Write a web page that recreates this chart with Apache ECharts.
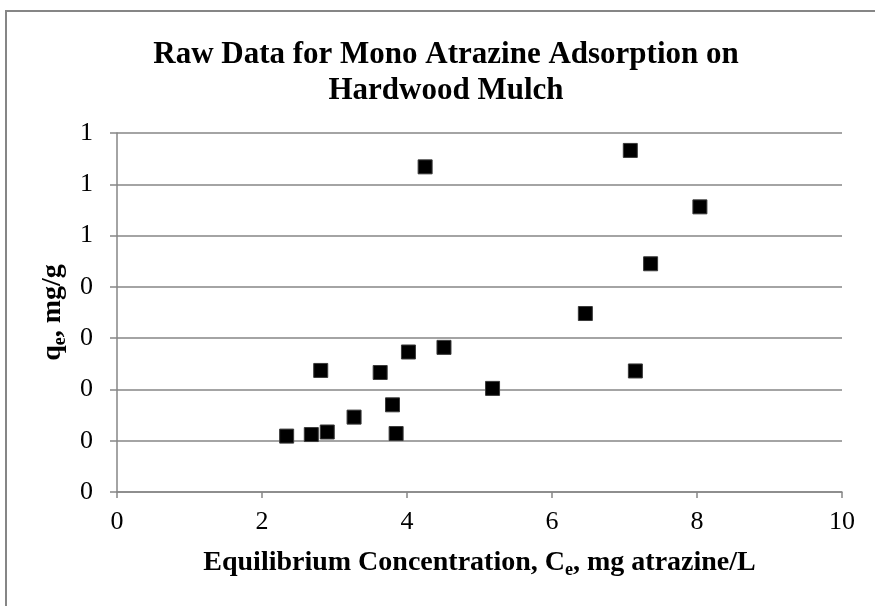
<!DOCTYPE html>
<html>
<head>
<meta charset="utf-8">
<script src="https://cdn.jsdelivr.net/npm/echarts@6/dist/echarts.min.js"></script>
<style>
  html, body { margin: 0; padding: 0; background: #fff; }
  #chart { width: 875px; height: 606px; }
</style>
</head>
<body>
<div id="chart"></div>
<script>
// equilibrium concentration (mg/L) and uptake (mg/g)
const ce = [2.34, 2.68, 2.90, 2.81, 3.27, 3.63, 3.80, 3.85, 4.02, 4.25, 4.51, 5.18, 6.46, 7.08, 7.15, 7.36, 8.04];
const qe = [0.109, 0.112, 0.117, 0.237, 0.146, 0.233, 0.170, 0.114, 0.273, 0.634, 0.282, 0.202, 0.348, 0.666, 0.236, 0.445, 0.556];

// the axis labels as printed (y values got rounded to whole numbers)
const xTickLabels = ['0', '2', '4', '6', '8', '10'];
const yTickLabels = ['0', '0', '0', '0', '0', '1', '1', '1'];

const serif = '"Liberation Serif", "DejaVu Serif", serif';
const grey = '#868686';

const points = ce.map((x, i) => [x, qe[i]]);

const chart = echarts.init(document.getElementById('chart'), null, { renderer: 'canvas' });

chart.setOption({
  animation: false,
  backgroundColor: '#fff',
  graphic: [{
    type: 'rect',
    shape: { x: 6, y: 11, width: 900, height: 700 },
    style: { fill: 'none', stroke: grey, lineWidth: 2 },
    silent: true
  }],
  title: {
    text: 'Raw Data for Mono Atrazine Adsorption on\nHardwood Mulch',
    left: 441,
    top: 32,
    textAlign: 'center',
    textStyle: {
      fontFamily: serif,
      fontWeight: 'bold',
      fontSize: 31,
      lineHeight: 36,
      color: '#000'
    }
  },
  grid: { left: 117, right: 33, top: 133, bottom: 114, containLabel: false },
  xAxis: {
    type: 'value',
    min: 0,
    max: 10,
    interval: 2,
    name: '{t|Equilibrium Concentration, C}{s|e}{t|, mg atrazine/L}',
    nameLocation: 'middle',
    nameGap: 55,
    nameTextStyle: {
      rich: {
        t: { fontFamily: serif, fontWeight: 'bold', fontSize: 28, color: '#000' },
        s: { fontFamily: serif, fontWeight: 'bold', fontSize: 18, color: '#000', padding: [14, 0, 0, 0] }
      }
    },
    axisLine: { show: true, lineStyle: { color: grey, width: 1.5 } },
    axisTick: { show: true, inside: false, length: 6, lineStyle: { color: grey, width: 1.5 } },
    axisLabel: {
      margin: 17,
      fontFamily: serif,
      fontSize: 26,
      color: '#000',
      formatter: (v, i) => xTickLabels[i]
    },
    splitLine: { show: false }
  },
  yAxis: {
    type: 'value',
    min: 0,
    max: 0.7,
    interval: 0.1,
    name: '{t|q}{s|e}{t|, mg/g}',
    nameLocation: 'middle',
    nameGap: 42,
    nameRotate: 90,
    nameTextStyle: {
      rich: {
        t: { fontFamily: serif, fontWeight: 'bold', fontSize: 28, color: '#000' },
        s: { fontFamily: serif, fontWeight: 'bold', fontSize: 18, color: '#000', padding: [14, 0, 0, 0] }
      }
    },
    axisLine: { show: true, lineStyle: { color: grey, width: 1.5 } },
    axisTick: { show: true, inside: false, length: 7, lineStyle: { color: grey, width: 1.5 } },
    axisLabel: {
      margin: 24,
      fontFamily: serif,
      fontSize: 26,
      color: '#000',
      formatter: (v, i) => yTickLabels[i]
    },
    splitLine: { show: true, lineStyle: { color: grey, width: 1.5 } }
  },
  series: [{
    type: 'scatter',
    data: points,
    symbol: 'rect',
    symbolSize: 14,
    itemStyle: { color: '#000', borderColor: '#3a3a3a', borderWidth: 1, opacity: 1 }
  }]
});
</script>
</body>
</html>
